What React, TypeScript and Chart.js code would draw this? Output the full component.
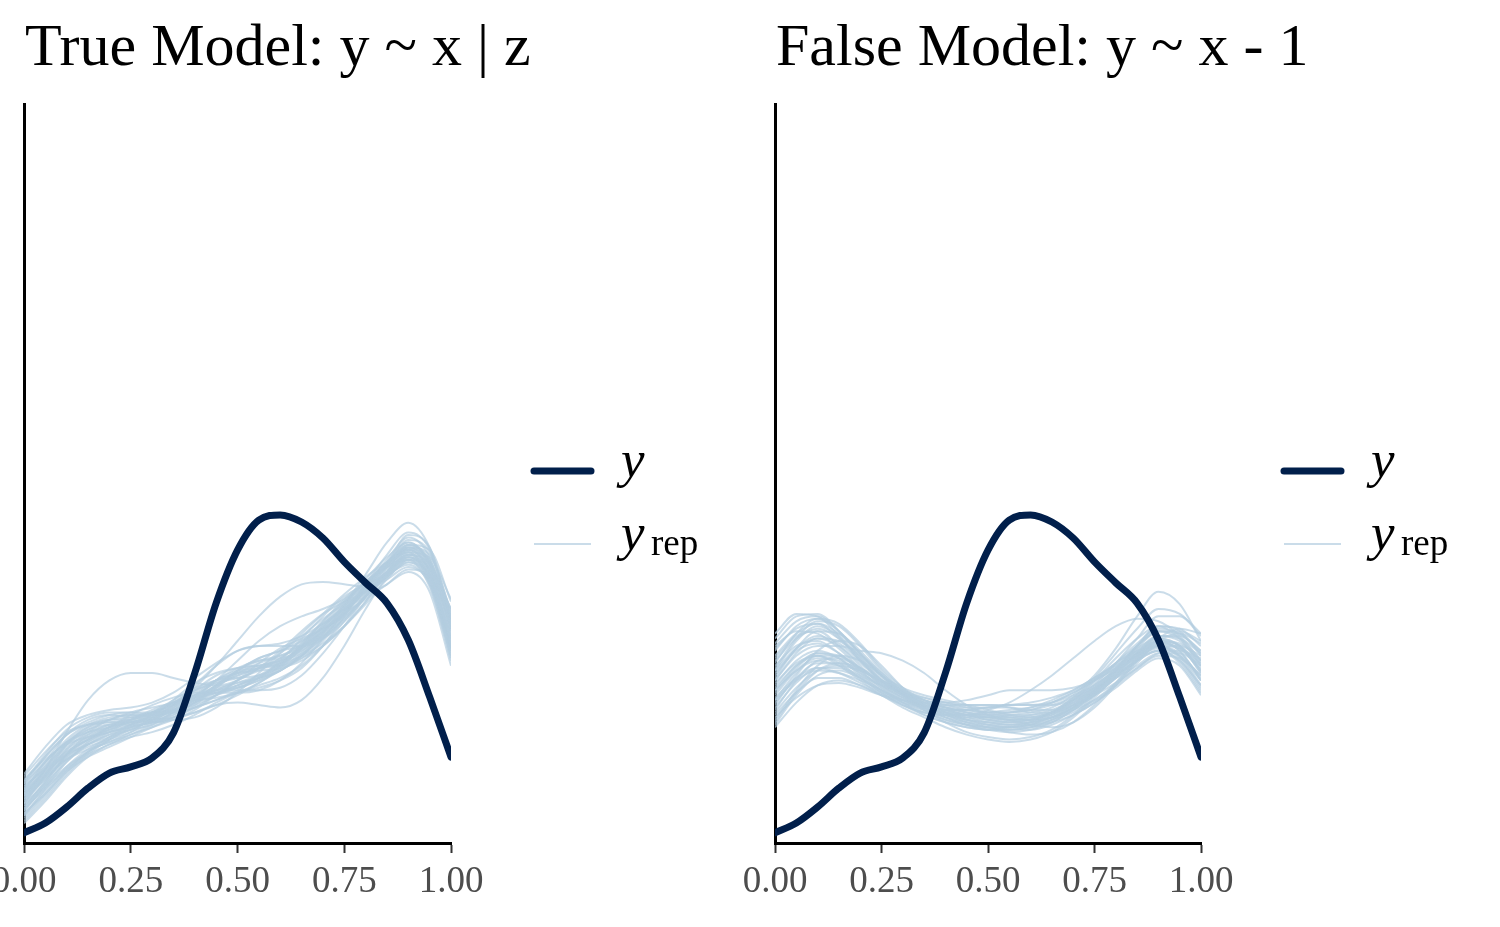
import React, { useEffect, useRef } from "react";
import { Chart, registerables } from "chart.js";

Chart.register(...registerables);

const xGrid = [0, 0.05, 0.1, 0.15, 0.2, 0.25, 0.3, 0.35, 0.4, 0.45, 0.5, 0.55, 0.6, 0.65, 0.7, 0.75, 0.8, 0.85, 0.9, 0.95, 1];
const xTicks = [0, 0.25, 0.5, 0.75, 1];
const xTickLabels = ["0.00", "0.25", "0.50", "0.75", "1.00"];
const titles = ["True Model: y ~ x | z", "False Model: y ~ x - 1"];

const yObserved = [0.041, 0.081, 0.146, 0.223, 0.284, 0.309, 0.345, 0.447, 0.69, 0.974, 1.189, 1.311, 1.332, 1.303, 1.238, 1.141, 1.056, 0.974, 0.824, 0.593, 0.349];

const yrepTrue = [
  [0.15, 0.25, 0.35, 0.41, 0.45, 0.47, 0.50, 0.54, 0.58, 0.62, 0.65, 0.68, 0.72, 0.79, 0.87, 0.95, 1.02, 1.10, 1.17, 1.09, 0.82],
  [0.22, 0.31, 0.40, 0.45, 0.48, 0.50, 0.52, 0.56, 0.61, 0.66, 0.69, 0.71, 0.73, 0.78, 0.86, 0.95, 1.04, 1.13, 1.21, 1.14, 0.88],
  [0.12, 0.21, 0.31, 0.38, 0.43, 0.48, 0.53, 0.57, 0.60, 0.62, 0.64, 0.67, 0.72, 0.80, 0.90, 0.99, 1.06, 1.12, 1.15, 1.04, 0.76],
  [0.25, 0.36, 0.46, 0.51, 0.53, 0.53, 0.52, 0.54, 0.58, 0.64, 0.70, 0.75, 0.78, 0.82, 0.87, 0.93, 1.00, 1.09, 1.19, 1.15, 0.92],
  [0.18, 0.26, 0.34, 0.39, 0.42, 0.45, 0.49, 0.55, 0.62, 0.68, 0.71, 0.72, 0.72, 0.75, 0.82, 0.92, 1.03, 1.14, 1.22, 1.13, 0.83],
  [0.20, 0.30, 0.39, 0.44, 0.47, 0.50, 0.53, 0.56, 0.59, 0.62, 0.66, 0.71, 0.77, 0.84, 0.91, 0.97, 1.02, 1.07, 1.12, 1.06, 0.85],
  [0.10, 0.19, 0.29, 0.37, 0.43, 0.47, 0.49, 0.51, 0.55, 0.60, 0.64, 0.67, 0.70, 0.76, 0.85, 0.96, 1.07, 1.16, 1.22, 1.12, 0.80],
  [0.27, 0.37, 0.45, 0.48, 0.49, 0.50, 0.53, 0.58, 0.63, 0.66, 0.67, 0.68, 0.71, 0.77, 0.86, 0.95, 1.02, 1.09, 1.16, 1.12, 0.95],
  [0.16, 0.27, 0.38, 0.45, 0.50, 0.52, 0.52, 0.53, 0.57, 0.63, 0.69, 0.73, 0.76, 0.80, 0.86, 0.94, 1.04, 1.13, 1.18, 1.05, 0.74],
  [0.21, 0.29, 0.36, 0.40, 0.44, 0.48, 0.52, 0.57, 0.60, 0.62, 0.63, 0.66, 0.72, 0.81, 0.90, 0.98, 1.04, 1.10, 1.17, 1.13, 0.90],
  [0.17, 0.30, 0.45, 0.58, 0.66, 0.69, 0.69, 0.67, 0.65, 0.64, 0.66, 0.71, 0.78, 0.86, 0.93, 0.98, 1.02, 1.08, 1.15, 1.08, 0.83],
  [0.14, 0.22, 0.30, 0.36, 0.40, 0.44, 0.47, 0.50, 0.53, 0.56, 0.57, 0.56, 0.55, 0.58, 0.67, 0.80, 0.95, 1.08, 1.16, 1.07, 0.78],
  [0.19, 0.28, 0.37, 0.42, 0.45, 0.47, 0.49, 0.53, 0.58, 0.64, 0.68, 0.71, 0.74, 0.79, 0.87, 0.97, 1.09, 1.22, 1.30, 1.20, 0.93],
  [0.23, 0.33, 0.41, 0.45, 0.47, 0.49, 0.51, 0.55, 0.60, 0.65, 0.69, 0.72, 0.74, 0.77, 0.83, 0.91, 1.00, 1.09, 1.16, 1.09, 0.86],
  [0.11, 0.22, 0.33, 0.41, 0.46, 0.50, 0.53, 0.56, 0.59, 0.61, 0.63, 0.67, 0.74, 0.83, 0.92, 1.00, 1.05, 1.09, 1.13, 1.05, 0.79],
  [0.20, 0.29, 0.38, 0.43, 0.46, 0.48, 0.51, 0.56, 0.63, 0.72, 0.82, 0.92, 1.00, 1.05, 1.06, 1.05, 1.04, 1.08, 1.14, 1.06, 0.80],
  [0.16, 0.24, 0.33, 0.40, 0.45, 0.50, 0.54, 0.57, 0.58, 0.59, 0.61, 0.65, 0.71, 0.79, 0.88, 0.97, 1.06, 1.14, 1.20, 1.11, 0.81],
  [0.24, 0.33, 0.41, 0.46, 0.48, 0.48, 0.49, 0.53, 0.59, 0.66, 0.71, 0.74, 0.75, 0.78, 0.84, 0.93, 1.03, 1.12, 1.18, 1.16, 0.99],
  [0.13, 0.23, 0.34, 0.40, 0.44, 0.46, 0.48, 0.52, 0.57, 0.61, 0.64, 0.68, 0.73, 0.80, 0.88, 0.95, 1.00, 1.05, 1.10, 1.02, 0.72],
  [0.19, 0.30, 0.40, 0.46, 0.50, 0.53, 0.55, 0.57, 0.60, 0.63, 0.65, 0.67, 0.70, 0.76, 0.85, 0.94, 1.02, 1.10, 1.17, 1.11, 0.87],
  [0.26, 0.34, 0.40, 0.43, 0.45, 0.48, 0.52, 0.57, 0.62, 0.65, 0.67, 0.70, 0.75, 0.82, 0.89, 0.95, 1.01, 1.08, 1.14, 1.09, 0.89],
  [0.09, 0.18, 0.28, 0.36, 0.42, 0.46, 0.50, 0.54, 0.57, 0.60, 0.63, 0.66, 0.70, 0.76, 0.84, 0.93, 1.03, 1.12, 1.19, 1.10, 0.79],
  [0.18, 0.27, 0.36, 0.42, 0.47, 0.51, 0.53, 0.54, 0.56, 0.60, 0.66, 0.73, 0.79, 0.83, 0.87, 0.92, 1.00, 1.10, 1.20, 1.17, 0.94],
  [0.21, 0.31, 0.41, 0.47, 0.49, 0.49, 0.50, 0.54, 0.60, 0.66, 0.70, 0.71, 0.72, 0.76, 0.83, 0.93, 1.04, 1.15, 1.24, 1.16, 0.88],
  [0.08, 0.17, 0.27, 0.35, 0.40, 0.43, 0.45, 0.48, 0.52, 0.57, 0.61, 0.64, 0.67, 0.72, 0.80, 0.90, 1.00, 1.09, 1.15, 1.06, 0.77],
  [0.28, 0.39, 0.48, 0.52, 0.54, 0.55, 0.57, 0.61, 0.67, 0.73, 0.78, 0.80, 0.81, 0.84, 0.89, 0.96, 1.03, 1.10, 1.17, 1.13, 0.95],
  [0.14, 0.25, 0.36, 0.43, 0.47, 0.49, 0.50, 0.51, 0.53, 0.56, 0.60, 0.65, 0.70, 0.75, 0.80, 0.88, 0.98, 1.10, 1.21, 1.19, 0.98],
  [0.22, 0.32, 0.42, 0.48, 0.51, 0.52, 0.51, 0.50, 0.51, 0.55, 0.61, 0.69, 0.77, 0.85, 0.93, 1.01, 1.08, 1.14, 1.18, 1.07, 0.75],
  [0.17, 0.26, 0.35, 0.40, 0.43, 0.46, 0.50, 0.56, 0.64, 0.72, 0.78, 0.80, 0.80, 0.80, 0.83, 0.90, 1.00, 1.12, 1.23, 1.18, 0.92],
  [0.11, 0.20, 0.30, 0.37, 0.41, 0.44, 0.48, 0.53, 0.58, 0.61, 0.62, 0.62, 0.63, 0.68, 0.77, 0.88, 1.00, 1.11, 1.20, 1.14, 0.86],
  [0.25, 0.35, 0.44, 0.49, 0.52, 0.53, 0.53, 0.53, 0.55, 0.58, 0.62, 0.67, 0.73, 0.80, 0.88, 0.96, 1.05, 1.14, 1.21, 1.15, 0.91],
  [0.19, 0.27, 0.34, 0.38, 0.41, 0.45, 0.51, 0.58, 0.65, 0.69, 0.71, 0.72, 0.74, 0.79, 0.86, 0.93, 0.99, 1.05, 1.11, 1.08, 0.92],
  [0.13, 0.24, 0.36, 0.44, 0.48, 0.49, 0.49, 0.51, 0.56, 0.63, 0.70, 0.75, 0.78, 0.80, 0.84, 0.91, 1.01, 1.13, 1.25, 1.20, 0.89],
  [0.23, 0.30, 0.37, 0.42, 0.47, 0.52, 0.56, 0.59, 0.61, 0.61, 0.61, 0.62, 0.66, 0.73, 0.83, 0.94, 1.05, 1.14, 1.19, 1.10, 0.80],
  [0.16, 0.28, 0.40, 0.47, 0.50, 0.50, 0.49, 0.50, 0.54, 0.60, 0.66, 0.71, 0.75, 0.81, 0.89, 0.98, 1.06, 1.12, 1.16, 1.08, 0.84],
  [0.20, 0.28, 0.36, 0.42, 0.46, 0.49, 0.51, 0.54, 0.59, 0.66, 0.74, 0.82, 0.88, 0.92, 0.95, 0.99, 1.05, 1.13, 1.20, 1.13, 0.87],
  [0.12, 0.20, 0.29, 0.35, 0.39, 0.43, 0.47, 0.51, 0.55, 0.58, 0.61, 0.63, 0.66, 0.71, 0.80, 0.92, 1.05, 1.17, 1.26, 1.19, 0.90],
  [0.24, 0.35, 0.44, 0.48, 0.50, 0.51, 0.52, 0.55, 0.59, 0.64, 0.68, 0.71, 0.73, 0.76, 0.81, 0.88, 0.97, 1.07, 1.15, 1.11, 0.91],
  [0.15, 0.23, 0.31, 0.37, 0.42, 0.47, 0.52, 0.57, 0.62, 0.66, 0.69, 0.70, 0.71, 0.74, 0.80, 0.88, 0.98, 1.09, 1.18, 1.14, 0.93],
  [0.21, 0.33, 0.44, 0.50, 0.52, 0.51, 0.50, 0.52, 0.57, 0.64, 0.70, 0.74, 0.76, 0.79, 0.85, 0.94, 1.04, 1.13, 1.19, 1.09, 0.78],
];

const yrepFalse = [
  [0.64, 0.74, 0.78, 0.75, 0.68, 0.62, 0.58, 0.55, 0.53, 0.52, 0.51, 0.51, 0.52, 0.54, 0.58, 0.63, 0.69, 0.76, 0.80, 0.77, 0.67],
  [0.78, 0.88, 0.91, 0.86, 0.77, 0.68, 0.61, 0.56, 0.53, 0.51, 0.49, 0.48, 0.49, 0.51, 0.55, 0.61, 0.68, 0.76, 0.82, 0.80, 0.72],
  [0.52, 0.61, 0.67, 0.67, 0.64, 0.60, 0.57, 0.55, 0.54, 0.54, 0.55, 0.56, 0.56, 0.56, 0.58, 0.62, 0.68, 0.75, 0.80, 0.76, 0.64],
  [0.70, 0.82, 0.88, 0.84, 0.75, 0.66, 0.60, 0.56, 0.53, 0.50, 0.48, 0.47, 0.48, 0.52, 0.58, 0.66, 0.75, 0.83, 0.88, 0.83, 0.72],
  [0.60, 0.70, 0.75, 0.74, 0.70, 0.66, 0.62, 0.58, 0.55, 0.53, 0.52, 0.52, 0.52, 0.53, 0.56, 0.60, 0.65, 0.71, 0.76, 0.75, 0.68],
  [0.83, 0.92, 0.93, 0.86, 0.76, 0.68, 0.63, 0.60, 0.58, 0.56, 0.54, 0.52, 0.51, 0.52, 0.56, 0.62, 0.70, 0.79, 0.86, 0.85, 0.78],
  [0.48, 0.60, 0.68, 0.70, 0.67, 0.62, 0.57, 0.53, 0.50, 0.48, 0.47, 0.47, 0.48, 0.51, 0.56, 0.63, 0.71, 0.78, 0.82, 0.78, 0.66],
  [0.66, 0.76, 0.80, 0.80, 0.78, 0.77, 0.74, 0.69, 0.62, 0.56, 0.52, 0.50, 0.50, 0.53, 0.59, 0.66, 0.73, 0.78, 0.80, 0.75, 0.63],
  [0.72, 0.80, 0.82, 0.77, 0.70, 0.63, 0.58, 0.55, 0.54, 0.54, 0.55, 0.55, 0.54, 0.54, 0.57, 0.62, 0.70, 0.80, 0.88, 0.86, 0.76],
  [0.58, 0.69, 0.76, 0.76, 0.71, 0.64, 0.58, 0.54, 0.51, 0.49, 0.48, 0.48, 0.49, 0.51, 0.55, 0.60, 0.67, 0.75, 0.82, 0.81, 0.74],
  [0.62, 0.72, 0.77, 0.75, 0.69, 0.62, 0.57, 0.54, 0.52, 0.51, 0.51, 0.52, 0.53, 0.55, 0.60, 0.68, 0.79, 0.92, 1.02, 0.97, 0.82],
  [0.75, 0.84, 0.86, 0.80, 0.72, 0.64, 0.59, 0.55, 0.52, 0.50, 0.49, 0.49, 0.50, 0.53, 0.58, 0.64, 0.70, 0.75, 0.78, 0.73, 0.61],
  [0.55, 0.65, 0.71, 0.71, 0.67, 0.61, 0.56, 0.52, 0.49, 0.47, 0.46, 0.46, 0.47, 0.50, 0.55, 0.62, 0.70, 0.78, 0.84, 0.82, 0.73],
  [0.68, 0.79, 0.84, 0.81, 0.74, 0.66, 0.60, 0.57, 0.55, 0.54, 0.53, 0.53, 0.54, 0.56, 0.59, 0.63, 0.67, 0.72, 0.77, 0.77, 0.72],
  [0.80, 0.86, 0.85, 0.79, 0.71, 0.65, 0.60, 0.57, 0.55, 0.53, 0.51, 0.50, 0.50, 0.52, 0.56, 0.62, 0.69, 0.76, 0.81, 0.79, 0.70],
  [0.50, 0.62, 0.72, 0.76, 0.74, 0.68, 0.61, 0.55, 0.51, 0.48, 0.46, 0.45, 0.46, 0.49, 0.54, 0.61, 0.69, 0.77, 0.83, 0.80, 0.69],
  [0.63, 0.72, 0.76, 0.73, 0.67, 0.61, 0.56, 0.53, 0.52, 0.52, 0.54, 0.57, 0.62, 0.68, 0.75, 0.82, 0.88, 0.91, 0.90, 0.84, 0.74],
  [0.57, 0.67, 0.73, 0.73, 0.69, 0.64, 0.59, 0.56, 0.54, 0.52, 0.50, 0.49, 0.49, 0.51, 0.55, 0.61, 0.68, 0.74, 0.78, 0.74, 0.62],
  [0.74, 0.83, 0.87, 0.83, 0.75, 0.67, 0.61, 0.57, 0.54, 0.52, 0.51, 0.51, 0.51, 0.53, 0.57, 0.63, 0.71, 0.80, 0.86, 0.83, 0.74],
  [0.61, 0.71, 0.77, 0.76, 0.71, 0.65, 0.60, 0.56, 0.54, 0.52, 0.51, 0.50, 0.50, 0.51, 0.54, 0.58, 0.64, 0.71, 0.77, 0.78, 0.75],
  [0.69, 0.78, 0.81, 0.77, 0.70, 0.63, 0.57, 0.52, 0.49, 0.47, 0.46, 0.47, 0.49, 0.53, 0.58, 0.65, 0.72, 0.79, 0.83, 0.80, 0.70],
  [0.53, 0.63, 0.70, 0.72, 0.70, 0.66, 0.62, 0.59, 0.57, 0.56, 0.56, 0.56, 0.56, 0.57, 0.60, 0.64, 0.70, 0.76, 0.81, 0.79, 0.71],
  [0.76, 0.85, 0.89, 0.85, 0.77, 0.69, 0.62, 0.57, 0.53, 0.50, 0.48, 0.47, 0.47, 0.49, 0.54, 0.60, 0.67, 0.74, 0.80, 0.79, 0.73],
  [0.65, 0.73, 0.76, 0.72, 0.66, 0.60, 0.56, 0.53, 0.52, 0.52, 0.53, 0.54, 0.55, 0.57, 0.61, 0.66, 0.73, 0.81, 0.87, 0.85, 0.77],
  [0.85, 0.93, 0.92, 0.84, 0.74, 0.66, 0.61, 0.58, 0.56, 0.55, 0.55, 0.56, 0.57, 0.59, 0.62, 0.67, 0.73, 0.80, 0.86, 0.86, 0.82],
  [0.47, 0.57, 0.64, 0.66, 0.64, 0.60, 0.55, 0.51, 0.47, 0.44, 0.42, 0.41, 0.42, 0.45, 0.51, 0.59, 0.68, 0.77, 0.84, 0.83, 0.77],
  [0.71, 0.83, 0.90, 0.88, 0.80, 0.70, 0.62, 0.56, 0.52, 0.49, 0.47, 0.46, 0.46, 0.48, 0.52, 0.57, 0.63, 0.70, 0.75, 0.72, 0.60],
  [0.59, 0.67, 0.71, 0.69, 0.65, 0.61, 0.58, 0.57, 0.57, 0.58, 0.60, 0.62, 0.62, 0.62, 0.63, 0.66, 0.71, 0.77, 0.82, 0.80, 0.70],
  [0.67, 0.79, 0.86, 0.85, 0.78, 0.69, 0.61, 0.54, 0.49, 0.45, 0.43, 0.42, 0.43, 0.46, 0.52, 0.60, 0.70, 0.80, 0.88, 0.87, 0.80],
  [0.56, 0.68, 0.78, 0.82, 0.80, 0.72, 0.63, 0.56, 0.52, 0.50, 0.49, 0.48, 0.48, 0.49, 0.52, 0.57, 0.64, 0.73, 0.82, 0.85, 0.81],
  [0.79, 0.87, 0.89, 0.83, 0.74, 0.66, 0.60, 0.57, 0.56, 0.56, 0.56, 0.55, 0.53, 0.53, 0.56, 0.61, 0.68, 0.74, 0.78, 0.74, 0.64],
  [0.51, 0.59, 0.64, 0.65, 0.63, 0.60, 0.58, 0.56, 0.54, 0.52, 0.50, 0.49, 0.50, 0.53, 0.59, 0.67, 0.77, 0.87, 0.95, 0.93, 0.85],
  [0.73, 0.85, 0.91, 0.89, 0.81, 0.71, 0.63, 0.58, 0.55, 0.53, 0.52, 0.50, 0.48, 0.47, 0.49, 0.55, 0.64, 0.74, 0.82, 0.80, 0.69],
  [0.62, 0.70, 0.74, 0.72, 0.68, 0.64, 0.61, 0.59, 0.57, 0.55, 0.53, 0.51, 0.50, 0.51, 0.55, 0.61, 0.69, 0.77, 0.82, 0.78, 0.66],
  [0.66, 0.77, 0.83, 0.82, 0.76, 0.68, 0.60, 0.54, 0.50, 0.48, 0.47, 0.47, 0.48, 0.50, 0.53, 0.58, 0.65, 0.74, 0.83, 0.87, 0.85],
  [0.54, 0.66, 0.74, 0.75, 0.71, 0.65, 0.59, 0.55, 0.53, 0.52, 0.52, 0.53, 0.55, 0.58, 0.62, 0.67, 0.72, 0.77, 0.80, 0.76, 0.66],
  [0.81, 0.90, 0.92, 0.86, 0.77, 0.68, 0.61, 0.56, 0.52, 0.49, 0.47, 0.45, 0.44, 0.45, 0.49, 0.56, 0.65, 0.75, 0.84, 0.84, 0.78],
  [0.58, 0.66, 0.70, 0.69, 0.66, 0.62, 0.58, 0.55, 0.53, 0.51, 0.50, 0.50, 0.51, 0.53, 0.57, 0.64, 0.73, 0.83, 0.92, 0.92, 0.84],
  [0.70, 0.79, 0.83, 0.80, 0.73, 0.66, 0.61, 0.58, 0.56, 0.54, 0.53, 0.53, 0.54, 0.57, 0.61, 0.66, 0.71, 0.76, 0.79, 0.76, 0.68],
  [0.49, 0.61, 0.70, 0.73, 0.71, 0.66, 0.60, 0.55, 0.51, 0.48, 0.46, 0.46, 0.47, 0.50, 0.54, 0.60, 0.67, 0.74, 0.80, 0.80, 0.76],
];

const DARK = "#011f4b";
const LIGHT = "rgba(179,205,224,0.7)";
const SERIF = "'Liberation Serif', 'Times New Roman', serif";

function toPoints(arr: number[]) {
  return xGrid.map((x, i) => ({ x, y: arr[i] }));
}

type PanelProps = { title: string; yrep: number[][]; canvasLeft: number; canvasWidth: number; axisLeft: number; axisRight: number };

function Panel({ title, yrep, canvasLeft, canvasWidth, axisLeft, axisRight }: PanelProps) {
  const ref = useRef<HTMLCanvasElement>(null);
  useEffect(() => {
    if (!ref.current) return;
    const padLeft = axisLeft - canvasLeft;
    const padRight = canvasWidth - (axisRight - canvasLeft);
    const lx = axisRight - canvasLeft; // legend positions relative to plot right edge
    const overlay = {
      id: "overlay",
      afterDraw(chart: any) {
        const ctx = chart.ctx;
        ctx.save();
        ctx.fillStyle = "#000";
        ctx.textBaseline = "alphabetic";
        ctx.textAlign = "left";
        ctx.font = `60px ${SERIF}`;
        ctx.fillText(title, padLeft + 1, 65);
        ctx.lineCap = "round";
        ctx.strokeStyle = DARK;
        ctx.lineWidth = 7;
        ctx.beginPath();
        ctx.moveTo(lx + 83, 471);
        ctx.lineTo(lx + 140, 471);
        ctx.stroke();
        ctx.lineCap = "butt";
        ctx.strokeStyle = LIGHT;
        ctx.lineWidth = 2;
        ctx.beginPath();
        ctx.moveTo(lx + 83, 544);
        ctx.lineTo(lx + 140, 544);
        ctx.stroke();
        ctx.fillStyle = "#000";
        ctx.font = `italic 53px ${SERIF}`;
        ctx.fillText("y", lx + 170, 477);
        ctx.fillText("y", lx + 170, 550);
        ctx.font = `37px ${SERIF}`;
        ctx.fillText("rep", lx + 200, 555);
        ctx.restore();
      },
    };
    const datasets: any[] = [
      {
        label: "y",
        data: toPoints(yObserved),
        borderColor: DARK,
        borderWidth: 7,
        pointRadius: 0,
        cubicInterpolationMode: "monotone",
        borderCapStyle: "round",
        borderJoinStyle: "round",
        order: 0,
      },
      ...yrep.map((arr, k) => ({
        label: "yrep" + k,
        data: toPoints(arr),
        borderColor: LIGHT,
        borderWidth: 2,
        pointRadius: 0,
        cubicInterpolationMode: "monotone",
        order: 1,
      })),
    ];
    const chart = new Chart(ref.current, {
      type: "line",
      data: { datasets },
      options: {
        animation: false,
        responsive: false,
        maintainAspectRatio: false,
        layout: { autoPadding: false, padding: { left: padLeft, top: 104, right: padRight, bottom: 0 } },
        plugins: { legend: { display: false }, tooltip: { enabled: false }, title: { display: false } },
        scales: {
          x: {
            type: "linear",
            min: 0,
            max: 1,
            afterBuildTicks: (s: any) => {
              s.ticks = xTicks.map((v) => ({ value: v }));
            },
            afterFit: (s: any) => {
              s.height = 84;
              s.paddingLeft = 0;
              s.paddingRight = 0;
            },
            grid: { drawOnChartArea: false, drawTicks: true, tickLength: 10, tickColor: "#333333", tickWidth: 2 },
            border: { display: true, color: "#000", width: 3 },
            ticks: {
              font: { family: SERIF, size: 37 },
              color: "#4d4d4d",
              padding: 7,
              maxRotation: 0,
              autoSkip: false,
              callback: (v: any) => {
                const i = xTicks.indexOf(Number(v));
                return i >= 0 ? xTickLabels[i] : "";
              },
            },
          },
          y: {
            min: 0,
            max: 3,
            afterFit: (s: any) => {
              s.width = 0;
              s.paddingTop = 0;
              s.paddingBottom = 0;
            },
            ticks: { display: false },
            grid: { display: false },
            border: { display: true, color: "#000", width: 3 },
          },
        },
      } as any,
      plugins: [overlay],
    });
    return () => chart.destroy();
  }, []);
  return (
    <canvas
      ref={ref}
      width={canvasWidth}
      height={927}
      style={{ position: "absolute", left: canvasLeft, top: 0, width: canvasWidth, height: 927 }}
    />
  );
}

export default function App() {
  return (
    <div style={{ position: "fixed", left: 0, top: 0, width: 1500, height: 927, background: "#fff", overflow: "hidden" }}>
      <Panel title={titles[0]} yrep={yrepTrue} canvasLeft={0} canvasWidth={750} axisLeft={24} axisRight={451} />
      <Panel title={titles[1]} yrep={yrepFalse} canvasLeft={705} canvasWidth={795} axisLeft={775} axisRight={1201} />
    </div>
  );
}
